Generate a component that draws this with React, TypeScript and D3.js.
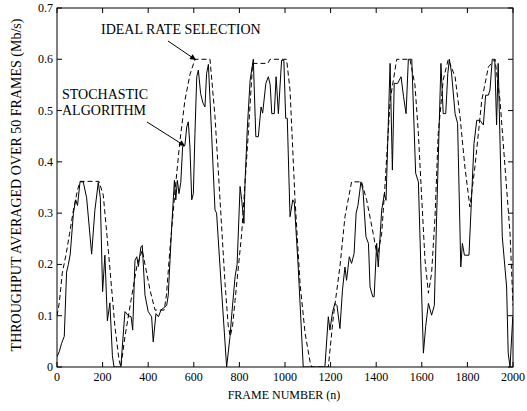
import { useRef, useEffect } from 'react';
import * as d3 from 'd3';

// stochastic algorithm (solid) - frame / throughput pairs
const stochFrames = [0, 10, 20, 32, 42, 50, 58, 72, 82, 90, 101, 115, 130, 152, 166, 181, 190, 200, 210, 221, 232, 243, 250, 280, 298, 313, 325, 332, 342, 350, 357, 368, 374, 386, 400, 415, 422, 434, 445, 456, 481, 488, 503, 515, 521, 528, 535, 543, 551, 561, 569, 576, 583, 591, 598, 605, 613, 620, 630, 640, 649, 656, 664, 678, 693, 700, 715, 744, 759, 766, 781, 790, 803, 810, 820, 825, 835, 847, 861, 872, 883, 895, 902, 916, 927, 935, 942, 953, 961, 971, 985, 995, 1003, 1010, 1022, 1034, 1041, 1058, 1080, 1175, 1190, 1197, 1209, 1219, 1228, 1241, 1252, 1263, 1270, 1282, 1292, 1303, 1312, 1320, 1333, 1342, 1355, 1366, 1373, 1385, 1391, 1402, 1409, 1424, 1436, 1443, 1461, 1471, 1479, 1494, 1509, 1520, 1531, 1541, 1556, 1573, 1585, 1595, 1607, 1617, 1629, 1643, 1655, 1665, 1684, 1694, 1705, 1714, 1721, 1730, 1746, 1757, 1771, 1778, 1787, 1807, 1829, 1841, 1855, 1870, 1880, 1892, 1899, 1909, 1920, 1928, 1935, 1953, 1972, 1979, 1987, 1999];
const stochValues = [0.02, 0.03, 0.046, 0.06, 0.185, 0.2, 0.22, 0.3, 0.326, 0.315, 0.361, 0.361, 0.33, 0.22, 0.305, 0.36, 0.33, 0.147, 0.218, 0.09, 0.125, 0.022, 0, 0, 0.108, 0.1, 0.098, 0.072, 0.208, 0.215, 0.196, 0.234, 0.237, 0.14, 0.108, 0.098, 0.049, 0.104, 0.098, 0.111, 0.12, 0.14, 0.273, 0.364, 0.326, 0.364, 0.338, 0.36, 0.43, 0.432, 0.468, 0.478, 0.429, 0.326, 0.338, 0.455, 0.566, 0.579, 0.533, 0.515, 0.507, 0.572, 0.59, 0.455, 0.306, 0.3, 0.195, 0, 0.06, 0.1, 0.176, 0.2, 0.352, 0.326, 0.28, 0.364, 0.468, 0.559, 0.6, 0.449, 0.449, 0.507, 0.495, 0.553, 0.566, 0.55, 0.494, 0.494, 0.566, 0.494, 0.598, 0.598, 0.485, 0.485, 0.293, 0.326, 0.32, 0.195, 0, 0, 0.098, 0.072, 0.108, 0.124, 0.12, 0.075, 0.15, 0.195, 0.169, 0.215, 0.202, 0.221, 0.3, 0.315, 0.361, 0.345, 0.254, 0.241, 0.156, 0.137, 0.137, 0.241, 0.195, 0.306, 0.338, 0.325, 0.592, 0.384, 0.553, 0.553, 0.566, 0.527, 0.494, 0.6, 0.6, 0.378, 0.361, 0.208, 0.027, 0.079, 0.124, 0.101, 0.12, 0.293, 0.592, 0.494, 0.494, 0.572, 0.6, 0.575, 0.494, 0.475, 0.195, 0.241, 0.218, 0.218, 0.436, 0.481, 0.481, 0.472, 0.53, 0.53, 0.54, 0.6, 0.6, 0.472, 0.592, 0.254, 0.156, 0.027, 0, 0.098];

// ideal rate selection (dashed)
const idealFrames = [0, 10, 23, 40, 55, 72, 90, 101, 184, 203, 225, 254, 272, 280, 298, 325, 350, 374, 386, 408, 430, 470, 480, 495, 518, 539, 561, 583, 605, 671, 693, 715, 737, 751, 760, 770, 781, 810, 839, 858, 925, 934, 1007, 1022, 1044, 1066, 1088, 1110, 1117, 1190, 1212, 1241, 1263, 1292, 1336, 1358, 1387, 1405, 1424, 1439, 1461, 1490, 1548, 1570, 1585, 1600, 1614, 1629, 1643, 1658, 1672, 1694, 1716, 1746, 1768, 1789, 1811, 1833, 1863, 1892, 1921, 1943, 1965, 1987, 2000];
const idealValues = [0.1, 0.125, 0.183, 0.22, 0.26, 0.306, 0.345, 0.362, 0.362, 0.335, 0.228, 0.079, 0.014, 0, 0.059, 0.131, 0.196, 0.228, 0.2, 0.15, 0.111, 0.111, 0.14, 0.228, 0.345, 0.44, 0.52, 0.57, 0.6, 0.6, 0.488, 0.326, 0.163, 0.08, 0.06, 0.08, 0.13, 0.26, 0.455, 0.592, 0.592, 0.6, 0.6, 0.54, 0.326, 0.163, 0.066, 0.01, 0, 0, 0.098, 0.196, 0.293, 0.361, 0.361, 0.326, 0.26, 0.215, 0.26, 0.357, 0.52, 0.6, 0.6, 0.55, 0.455, 0.326, 0.209, 0.144, 0.183, 0.293, 0.455, 0.56, 0.6, 0.566, 0.487, 0.39, 0.312, 0.39, 0.52, 0.585, 0.6, 0.52, 0.39, 0.26, 0.12];

const xTicks = [0, 200, 400, 600, 800, 1000, 1200, 1400, 1600, 1800, 2000];
const yTicks = [0, 0.1, 0.2, 0.3, 0.4, 0.5, 0.6, 0.7];

const W = 527;
const H = 411;
const FONT = '"Liberation Serif", "Times New Roman", serif';

export default function App() {
  const svgRef = useRef<SVGSVGElement>(null);

  useEffect(() => {
    const svg = d3.select(svgRef.current);
    svg.selectAll('*').remove();

    const margin = { top: 8, right: 14, bottom: 44, left: 57 };
    const iw = W - margin.left - margin.right;
    const ih = H - margin.top - margin.bottom;

    const x = d3.scaleLinear().domain([0, 2000]).range([0, iw]);
    const y = d3.scaleLinear().domain([0, 0.7]).range([ih, 0]);

    const defs = svg.append('defs');
    defs.append('marker')
      .attr('id', 'arr')
      .attr('viewBox', '0 0 10 10')
      .attr('refX', 10)
      .attr('refY', 5)
      .attr('markerWidth', 9)
      .attr('markerHeight', 6)
      .attr('markerUnits', 'userSpaceOnUse')
      .attr('orient', 'auto')
      .append('path')
      .attr('d', 'M0,0 L10,5 L0,10 z')
      .attr('fill', '#000');
    defs.append('clipPath').attr('id', 'plotclip')
      .append('rect').attr('width', iw).attr('height', ih);

    const g = svg.append('g').attr('transform', 'translate(' + margin.left + ',' + margin.top + ')');

    const pathOf = d3.line<[number, number]>()
      .x(function (d) { return x(d[0]); })
      .y(function (d) { return y(d[1]); });

    const ideal = idealFrames.map(function (f, i) { return [f, idealValues[i]] as [number, number]; });
    const stoch = stochFrames.map(function (f, i) { return [f, stochValues[i]] as [number, number]; });

    const plot = g.append('g').attr('clip-path', 'url(#plotclip)');

    plot.append('path')
      .attr('d', pathOf(ideal))
      .attr('fill', 'none')
      .attr('stroke', '#000')
      .attr('stroke-width', 1)
      .attr('stroke-dasharray', '5,3');

    plot.append('path')
      .attr('d', pathOf(stoch))
      .attr('fill', 'none')
      .attr('stroke', '#000')
      .attr('stroke-width', 1);

    // frame box
    g.append('rect')
      .attr('width', iw)
      .attr('height', ih)
      .attr('fill', 'none')
      .attr('stroke', '#000')
      .attr('stroke-width', 1);

    // ticks (inward, on all four sides)
    const tl = 5;
    xTicks.forEach(function (t) {
      g.append('line').attr('x1', x(t)).attr('x2', x(t)).attr('y1', ih).attr('y2', ih - tl).attr('stroke', '#000');
      g.append('line').attr('x1', x(t)).attr('x2', x(t)).attr('y1', 0).attr('y2', tl).attr('stroke', '#000');
      g.append('text')
        .attr('x', x(t))
        .attr('y', ih + 14)
        .attr('text-anchor', 'middle')
        .attr('font-family', FONT)
        .attr('font-size', 12)
        .text(String(t));
    });
    yTicks.forEach(function (t) {
      g.append('line').attr('x1', 0).attr('x2', tl).attr('y1', y(t)).attr('y2', y(t)).attr('stroke', '#000');
      g.append('line').attr('x1', iw).attr('x2', iw - tl).attr('y1', y(t)).attr('y2', y(t)).attr('stroke', '#000');
      g.append('text')
        .attr('x', -4)
        .attr('y', y(t) + 4)
        .attr('text-anchor', 'end')
        .attr('font-family', FONT)
        .attr('font-size', 12)
        .text(t === 0 ? '0' : d3.format('.1f')(t));
    });

    // axis labels
    svg.append('text')
      .attr('x', 284)
      .attr('y', 399)
      .attr('text-anchor', 'middle')
      .attr('font-family', FONT)
      .attr('font-size', 12)
      .text('FRAME NUMBER (n)');
    svg.append('text')
      .attr('transform', 'translate(21,185) rotate(-90)')
      .attr('text-anchor', 'middle')
      .attr('font-family', FONT)
      .attr('font-size', 14)
      .text('THROUGHPUT AVERAGED OVER 50 FRAMES (Mb/s)');

    // annotations
    svg.append('text')
      .attr('x', 101)
      .attr('y', 34)
      .attr('font-family', FONT)
      .attr('font-size', 14)
      .text('IDEAL RATE SELECTION');
    svg.append('line')
      .attr('x1', 168).attr('y1', 41)
      .attr('x2', 196).attr('y2', 60)
      .attr('stroke', '#000')
      .attr('marker-end', 'url(#arr)');

    svg.append('text')
      .attr('x', 62)
      .attr('y', 99)
      .attr('font-family', FONT)
      .attr('font-size', 14)
      .text('STOCHASTIC');
    svg.append('text')
      .attr('x', 62)
      .attr('y', 115)
      .attr('font-family', FONT)
      .attr('font-size', 14)
      .text('ALGORITHM');
    svg.append('line')
      .attr('x1', 147).attr('y1', 122)
      .attr('x2', 185).attr('y2', 146)
      .attr('stroke', '#000')
      .attr('marker-end', 'url(#arr)');
  }, []);

  return (
    <div style={{ position: 'absolute', left: 0, top: 0, width: W, height: H, background: '#fff' }}>
      <svg ref={svgRef} width={W} height={H} />
    </div>
  );
}
